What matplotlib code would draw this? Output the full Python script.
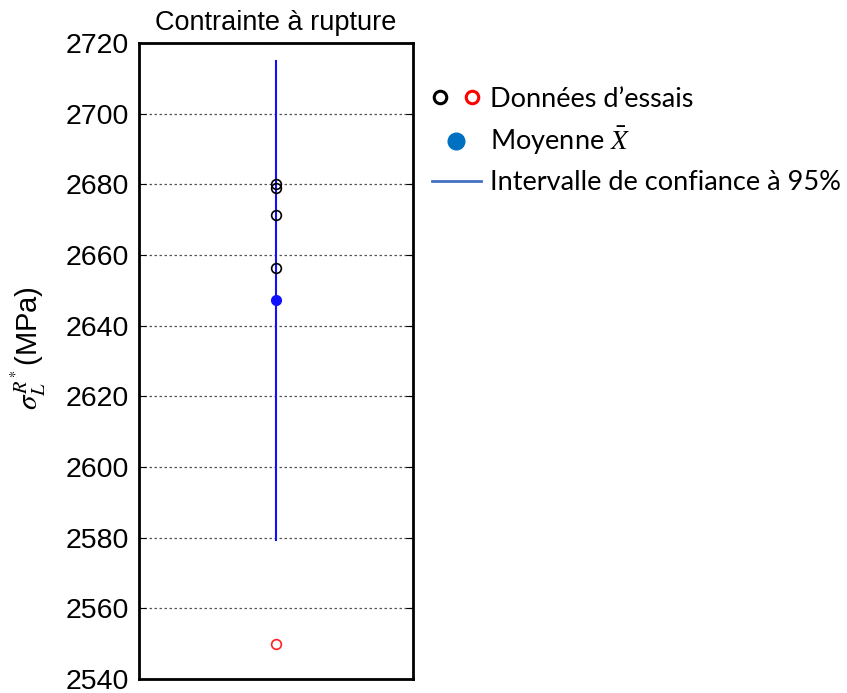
import matplotlib
matplotlib.use("Agg")
import matplotlib.pyplot as plt
from matplotlib.lines import Line2D
from matplotlib.legend_handler import HandlerTuple

plt.rcParams['mathtext.fontset'] = 'stix'

# Data
data_black = [2680.1, 2679.1, 2671.2, 2656.2]
data_red = [2550.0]
mean_val = 2647.2
ci_low, ci_high = 2579.4, 2715.0
yticks = list(range(2540, 2721, 20))

fig = plt.figure(figsize=(8.47, 6.93), dpi=100)
ax = fig.add_axes([139/847, 1-679/693, (413-139)/847, (679-43)/693])

x = 1.0
ax.plot([x, x], [ci_low, ci_high], color='#1010ff', lw=1.5, zorder=2)
ax.plot([x]*len(data_black), data_black, 'o', mfc='none', mec='black', ms=7, mew=1.2, zorder=3)
ax.plot([x]*len(data_red), data_red, 'o', mfc='none', mec='#ff2020', ms=7, mew=1.2, zorder=3)
ax.plot([x], [mean_val], 'o', color='#1010ff', ms=7, zorder=4)

ax.set_xlim(0, 2)
ax.set_ylim(2540, 2720)
ax.set_yticks(yticks)
ax.set_xticks([])
ax.yaxis.grid(True, linestyle=(0, (2, 2)), color='#555555', lw=0.9)
ax.tick_params(axis='y', direction='in', length=5, labelsize=20.5, right=True, pad=7)
for lab in ax.get_yticklabels():
    lab.set_fontfamily('Liberation Sans')
for s in ax.spines.values():
    s.set_linewidth(2)
ax.set_title('Contrainte à rupture', fontsize=19.5, family='Liberation Sans', pad=9)
ax.set_ylabel(r'$\sigma_L^{R^*}$(MPa)', fontsize=21, family='Liberation Sans')
ax.yaxis.set_label_coords(-0.33, 0.52)

h1 = Line2D([], [], marker='o', ls='none', mfc='none', mec='black', ms=9, mew=2.2)
h2 = Line2D([], [], marker='o', ls='none', mfc='none', mec='#ff0000', ms=9, mew=2.2)
h3 = Line2D([], [], marker='o', ls='none', color='#0070C0', ms=12)
h4 = Line2D([], [], color='#4472C4', lw=2)
fig.legend([(h1, h2), h3, h4],
           ['Données d’essais', r'Moyenne $\bar{X}$', 'Intervalle de confiance à 95%'],
           handler_map={tuple: HandlerTuple(ndivide=None, pad=0.6)},
           loc='upper left', bbox_to_anchor=(421/847, 1-76/693), frameon=False,
           prop={'family': 'Lato', 'size': 19.5}, handlelength=1.8, handletextpad=0.35,
           labelspacing=0.48, borderaxespad=0)

fig.savefig('out.png', dpi=100, facecolor='white')
